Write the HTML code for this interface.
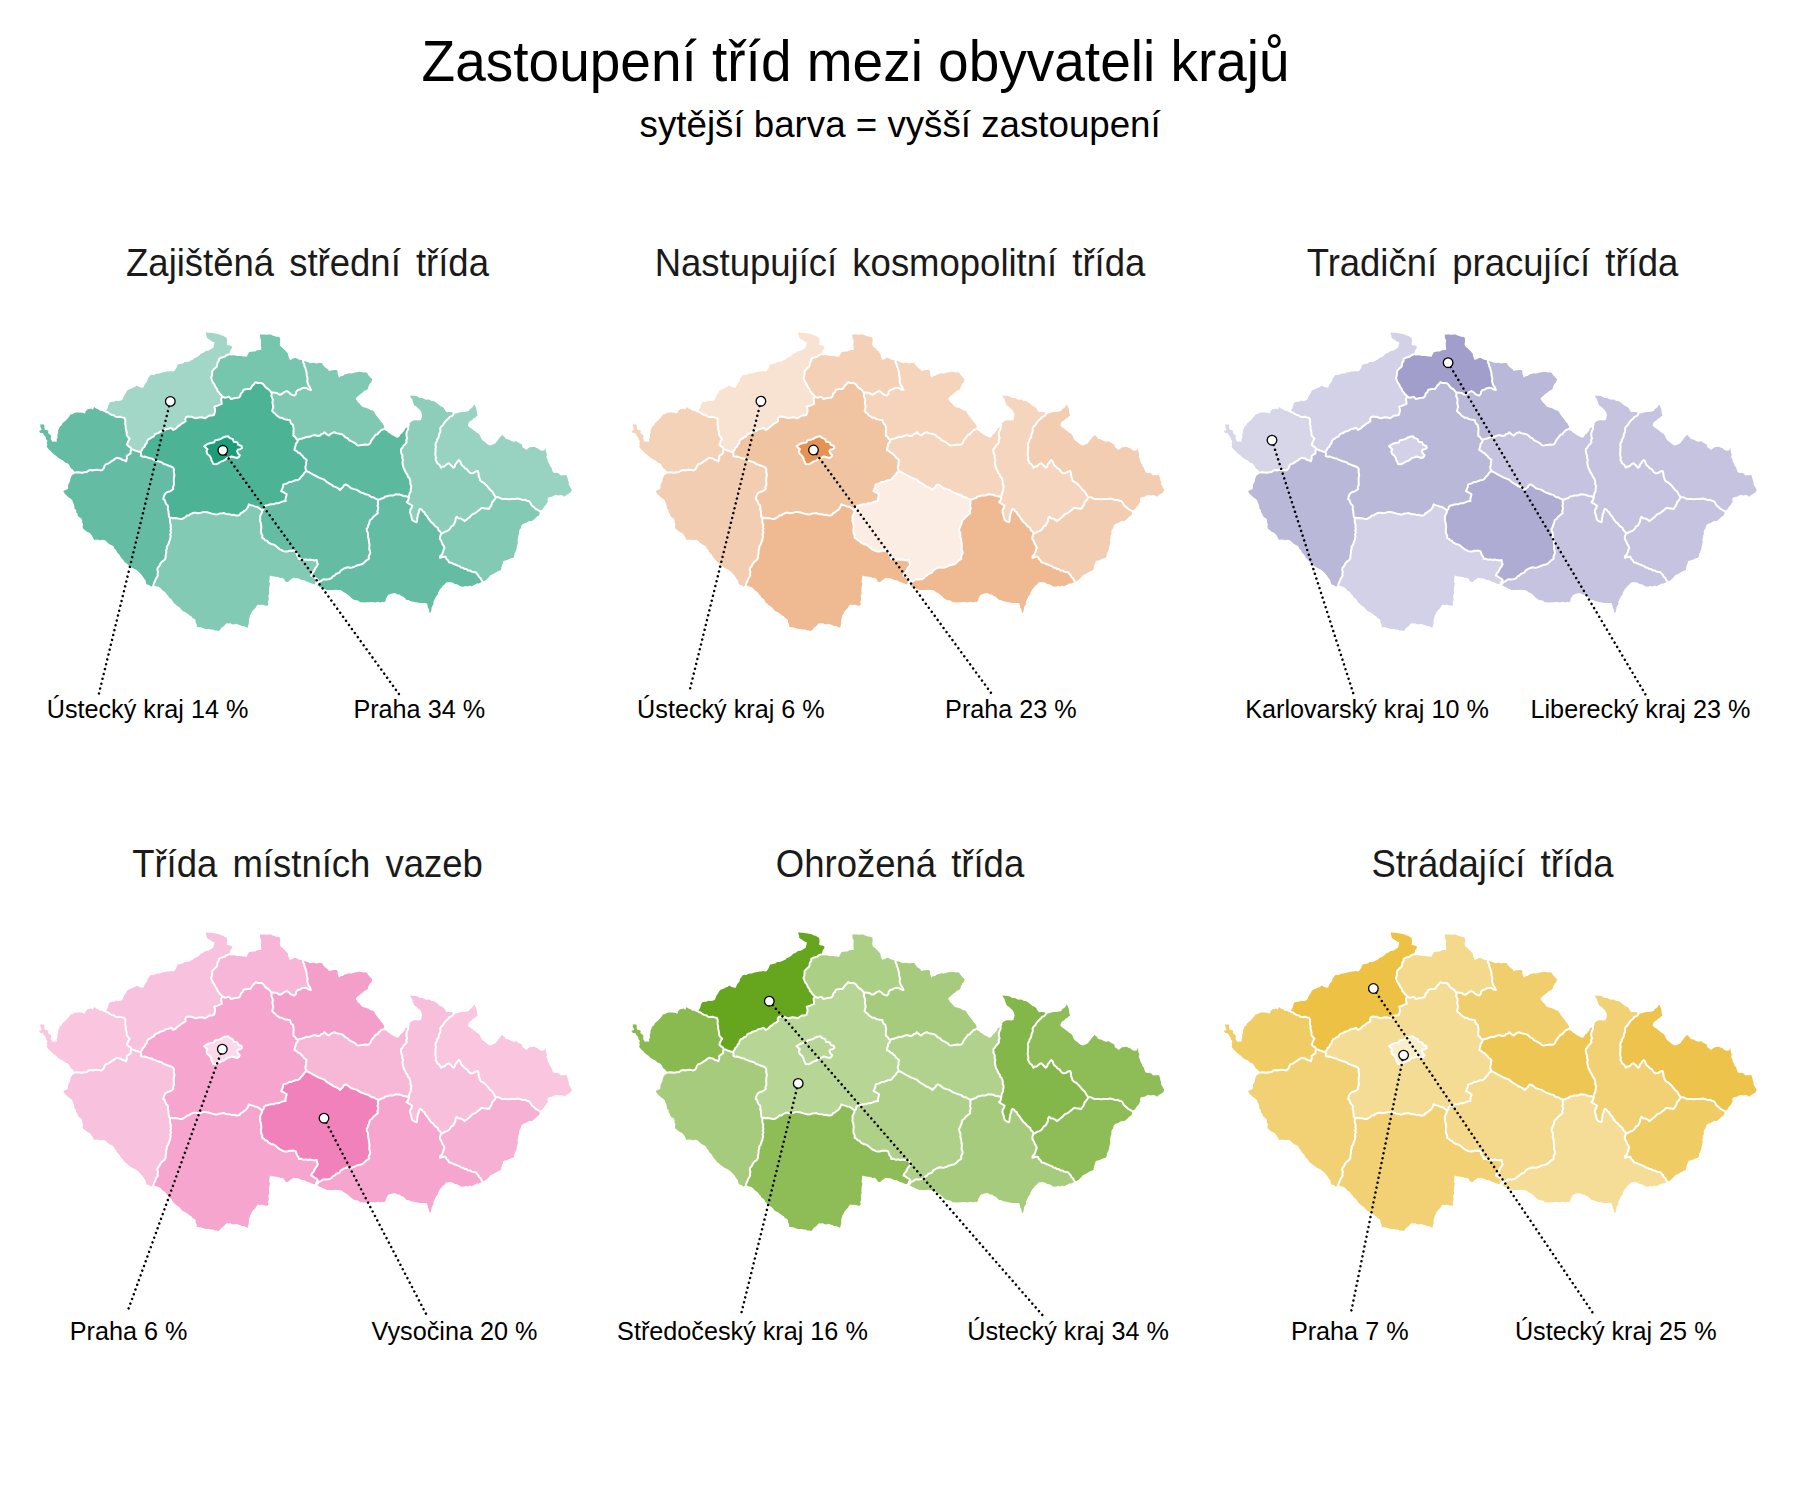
<!DOCTYPE html><html><head><meta charset="utf-8"><style>html,body{margin:0;padding:0;background:#fff;width:1800px;height:1500px;overflow:hidden}svg{display:block}text{font-family:"Liberation Sans",sans-serif}</style></head><body><svg width="1800" height="1500" viewBox="0 0 1800 1500"><defs><path id="rKV" d="M75.5 472.5L74.0 471.2L72.8 469.6L71.1 468.5L70.0 466.7L68.9 464.4L67.4 463.3L65.6 462.7L64.1 461.5L62.7 460.3L60.9 459.6L59.3 458.6L57.7 457.5L56.4 456.0L54.2 454.6L52.4 452.9L51.1 451.6L49.7 450.3L48.4 448.9L46.7 446.7L47.4 444.8L46.8 442.8L47.6 440.9L46.1 439.2L45.7 436.9L44.0 435.3L43.1 433.3L40.4 432.9L39.1 431.1L41.8 429.8L40.4 426.7L40.4 424.2L42.2 424.6L44.0 424.4L44.4 426.2L44.3 428.1L44.9 429.8L46.7 430.0L48.4 430.7L48.0 432.9L49.6 434.2L51.1 435.6L50.7 439.1L52.4 441.8L54.6 441.4L56.9 441.8L56.6 439.4L57.7 437.1L57.3 434.7L58.2 432.7L58.1 430.4L59.1 428.4L59.8 426.6L61.5 425.4L62.2 423.6L63.9 421.9L65.8 420.4L67.6 418.5L69.3 416.4L70.7 414.2L72.6 414.3L74.2 412.9L76.0 412.6L77.8 412.4L80.5 412.4L83.1 412.9L84.9 413.8L85.8 411.3L87.6 409.3L89.4 409.1L91.1 408.4L92.9 409.8L94.2 407.1L96.0 408.6L98.2 409.2L100.0 410.7L102.1 410.8L104.0 412.1L106.1 412.0L108.2 412.5L109.9 413.9L111.7 415.0L113.9 415.3L115.6 416.7L117.8 417.1L120.1 416.7L122.2 417.4L124.4 417.8L125.3 420.0L125.3 422.1L125.2 424.2L125.8 426.2L125.7 428.3L126.2 430.5L126.7 432.7L126.7 435.0L128.0 437.0L129.7 438.7L128.6 440.6L127.6 442.6L127.0 444.7L128.7 446.4L130.7 447.7L131.3 449.3L130.6 451.2L130.7 453.3L128.6 454.6L126.7 456.0L126.9 458.7L126.0 461.3L124.4 460.3L122.4 460.0L121.0 458.7L118.9 458.2L116.7 457.8L114.9 458.8L113.5 460.2L111.7 461.2L110.0 462.3L107.9 463.6L105.6 464.4L104.4 466.2L103.7 468.4L102.2 470.0L100.3 470.4L98.5 469.9L96.7 469.7L94.8 469.9L92.9 470.5L91.1 470.0L88.8 470.5L86.8 471.9L84.4 472.2L82.2 472.8L80.0 472.5L77.7 472.2Z"/><path id="rUL" d="M106.1 412.0L106.4 409.9L107.7 408.1L108.2 406.0L108.8 404.0L110.0 402.2L112.0 401.7L114.1 401.7L116.0 400.8L118.2 401.0L120.2 400.8L122.2 400.0L123.1 398.3L123.7 396.4L124.6 394.8L125.8 393.3L126.6 391.5L127.8 390.0L129.6 389.2L131.5 388.5L133.2 387.6L135.1 386.9L136.7 385.6L138.8 386.7L141.0 387.4L143.3 387.8L144.0 385.9L144.8 384.1L146.3 382.6L147.3 380.9L147.6 378.8L149.0 377.3L150.0 375.6L151.8 374.8L153.9 374.9L155.6 373.9L157.5 373.5L159.6 373.4L161.4 372.7L163.3 372.2L165.2 372.1L167.0 371.5L168.8 371.6L170.7 371.0L172.6 371.4L174.4 371.1L175.3 369.4L176.4 367.9L177.0 366.1L177.8 364.4L179.6 364.2L181.4 363.7L183.1 363.4L184.6 362.0L186.5 362.1L188.3 361.8L190.0 361.1L191.6 360.2L193.2 359.5L194.4 357.9L196.3 357.5L197.8 356.5L199.3 355.5L200.5 354.1L202.2 353.3L204.0 352.3L205.7 351.1L207.8 350.7L209.8 350.1L211.4 348.7L213.3 347.8L213.7 345.9L214.3 344.1L214.4 342.2L212.2 341.5L210.4 340.3L208.5 339.1L206.7 337.8L206.8 335.9L205.9 334.1L206.2 332.2L208.5 332.8L211.0 332.8L213.3 333.3L215.6 333.5L217.8 333.9L220.0 334.4L221.5 335.6L223.5 335.8L225.0 336.9L226.7 337.8L227.1 340.0L227.1 342.2L226.7 344.4L228.5 345.4L230.5 345.5L232.2 346.7L231.7 348.6L230.3 350.2L230.0 352.2L228.5 354.5L226.5 355.3L224.8 356.6L222.8 357.2L220.7 357.8L218.9 358.9L218.8 361.0L217.5 362.7L217.2 364.7L216.7 366.7L215.1 368.1L213.6 369.5L212.2 371.1L212.1 373.4L212.0 375.7L211.1 377.8L211.7 379.5L212.3 381.3L213.2 382.9L214.4 384.4L215.1 386.1L215.9 387.7L217.1 389.1L217.5 390.9L218.9 392.2L219.8 393.9L221.3 395.1L222.5 396.5L221.1 398.9L221.5 401.4L221.7 403.9L219.7 404.6L217.8 405.6L214.4 406.7L215.1 409.2L215.0 411.7L213.9 415.0L211.7 415.4L209.4 415.6L207.2 417.0L205.0 418.3L202.6 417.5L200.0 417.2L198.0 417.7L196.1 418.3L194.1 417.8L192.1 416.8L190.0 416.7L188.0 416.5L186.1 417.2L185.3 419.1L185.6 421.1L183.5 422.7L181.1 423.9L179.5 425.4L177.6 426.7L176.1 428.3L173.3 430.0L171.1 427.8L169.3 428.5L167.4 428.9L165.6 429.4L163.9 430.6L162.0 431.3L160.0 431.7L158.5 433.1L156.4 433.5L154.7 434.6L153.7 436.6L151.7 437.3L150.2 438.6L148.3 439.3L147.1 441.2L146.7 443.3L145.2 444.8L144.5 446.8L142.7 448.1L142.0 450.1L140.7 451.7L138.7 451.8L136.9 450.9L135.0 450.5L133.3 449.6L131.3 449.3L130.7 447.7L128.7 446.4L127.0 444.7L127.6 442.6L128.6 440.6L129.7 438.7L128.0 437.0L126.7 435.0L126.7 432.7L126.2 430.5L125.7 428.3L125.8 426.2L125.2 424.2L125.3 422.1L125.3 420.0L124.4 417.8L122.2 417.4L120.1 416.7L117.8 417.1L115.6 416.7L113.9 415.3L111.7 415.0L109.9 413.9L108.2 412.5Z"/><path id="rLB" d="M228.5 354.5L230.8 355.4L233.2 355.2L235.6 355.6L237.4 355.9L239.3 355.9L241.2 356.0L243.0 356.4L244.8 356.6L246.7 356.7L247.8 354.5L248.9 352.2L250.9 351.8L253.0 351.6L255.1 351.5L257.0 350.3L259.0 349.9L261.1 350.0L261.4 348.1L261.0 346.1L261.0 344.1L261.1 342.2L261.2 340.2L260.2 338.3L260.0 336.4L260.0 334.4L262.2 334.5L264.4 334.4L266.7 334.7L268.9 334.4L270.9 334.6L272.6 335.6L274.5 336.0L276.3 336.8L278.3 336.8L280.0 337.8L280.2 339.8L280.2 341.7L279.8 343.7L280.0 345.6L281.2 347.0L282.8 347.9L283.9 349.4L285.3 350.6L286.4 352.1L287.8 353.3L288.2 355.6L288.9 357.9L290.0 360.0L291.8 359.2L293.7 358.3L295.6 357.8L297.4 358.8L299.2 359.7L301.3 359.9L303.0 361.0L303.3 362.9L304.4 364.4L304.4 366.3L305.5 368.1L305.8 370.0L306.4 371.8L306.7 373.6L306.7 375.6L307.4 377.5L307.5 379.4L307.2 381.4L307.8 383.3L308.3 385.1L309.6 386.6L310.2 388.3L311.1 390.0L308.8 389.5L306.8 388.1L304.4 387.8L302.1 388.2L300.1 389.5L297.8 390.0L296.3 391.6L296.0 394.0L294.4 395.6L292.2 394.9L290.3 393.8L288.7 392.1L286.7 391.1L284.7 391.9L282.9 393.1L281.1 394.4L279.0 394.5L277.2 393.1L275.2 392.7L273.1 392.4L271.1 392.2L269.8 390.5L268.3 389.0L266.4 388.0L264.9 386.5L263.8 384.7L262.2 383.3L260.0 383.0L257.7 383.0L255.6 382.2L254.2 383.9L252.6 385.4L251.4 387.3L250.0 389.0L247.7 389.1L245.5 389.2L243.3 390.0L242.6 392.1L240.9 393.6L240.3 395.8L238.9 397.5L236.9 397.8L234.9 398.0L233.0 398.6L231.0 399.0L228.9 396.7L227.0 397.3L225.0 397.8L222.5 396.5L221.3 395.1L219.8 393.9L218.9 392.2L217.5 390.9L217.1 389.1L215.9 387.7L215.1 386.1L214.4 384.4L213.2 382.9L212.3 381.3L211.7 379.5L211.1 377.8L212.0 375.7L212.1 373.4L212.2 371.1L213.6 369.5L215.1 368.1L216.7 366.7L217.2 364.7L217.5 362.7L218.8 361.0L218.9 358.9L220.7 357.8L222.8 357.2L224.8 356.6L226.5 355.3Z"/><path id="rHK" d="M303.0 361.0L305.1 361.2L307.1 361.8L309.1 362.8L311.1 363.3L313.0 362.8L314.8 362.9L316.6 363.6L318.5 363.1L320.4 362.9L322.2 363.3L323.2 365.2L324.5 366.8L326.1 368.1L327.9 369.3L328.9 371.1L330.8 370.5L332.8 370.3L334.7 369.9L336.7 370.0L337.7 371.8L337.6 374.0L338.4 375.8L338.9 377.8L340.5 376.3L342.8 375.9L344.4 374.4L346.7 374.0L348.9 373.3L350.9 373.5L352.9 373.3L354.7 372.5L356.7 372.2L358.9 371.8L361.1 371.9L363.4 372.4L365.6 372.2L367.3 373.2L368.2 374.9L369.4 376.3L370.6 377.8L372.2 378.9L371.9 380.8L371.2 382.4L369.7 383.8L369.0 385.5L368.2 387.1L367.8 388.9L366.4 390.1L364.5 390.7L363.2 392.1L361.7 393.2L360.2 394.2L358.9 395.6L356.9 396.9L355.6 398.9L356.9 400.4L357.9 402.3L359.5 403.6L360.8 405.2L362.2 406.7L364.5 407.4L366.7 408.1L368.9 408.9L370.5 410.3L372.8 410.6L374.4 412.2L375.3 413.9L376.3 415.6L377.5 417.0L378.7 418.6L380.0 420.0L380.9 421.8L382.5 423.2L383.5 424.9L384.4 426.7L383.0 429.5L381.1 430.0L380.0 431.5L378.5 432.6L377.6 434.3L375.5 434.8L374.5 436.4L373.3 437.8L372.1 439.4L371.0 441.0L370.3 443.0L368.9 444.4L366.9 444.8L364.9 444.5L362.9 445.0L360.9 445.1L358.9 445.6L357.0 445.1L355.6 443.6L354.0 442.6L352.3 441.7L350.6 440.9L348.9 440.0L347.6 438.2L345.4 437.4L343.9 435.8L342.2 434.4L340.2 433.9L338.2 433.6L336.2 433.1L334.4 432.2L332.3 432.9L330.5 434.0L328.9 435.6L327.3 434.7L325.8 433.4L324.4 432.2L323.2 433.6L321.2 434.1L320.0 435.6L318.1 436.0L316.1 435.5L314.1 435.1L312.2 435.6L310.3 436.5L308.4 437.0L306.2 436.8L304.4 437.8L302.2 438.5L299.9 438.9L297.8 440.0L296.2 438.7L295.1 436.8L293.3 435.6L293.5 433.4L293.5 431.1L293.7 428.9L293.3 426.7L292.9 424.8L291.2 423.6L290.4 421.9L290.0 420.0L288.0 419.8L285.9 419.5L283.9 419.1L282.1 417.7L280.0 417.8L278.4 416.6L276.6 415.5L275.3 413.8L273.6 412.6L272.2 411.1L272.7 408.9L273.3 406.7L272.8 404.5L272.4 402.3L272.9 400.0L272.2 397.8L271.3 396.0L271.7 394.0L271.1 392.2L273.1 392.4L275.2 392.7L277.2 393.1L279.0 394.5L281.1 394.4L282.9 393.1L284.7 391.9L286.7 391.1L288.7 392.1L290.3 393.8L292.2 394.9L294.4 395.6L296.0 394.0L296.3 391.6L297.8 390.0L300.1 389.5L302.1 388.2L304.4 387.8L306.8 388.1L308.8 389.5L311.1 390.0L310.2 388.3L309.6 386.6L308.3 385.1L307.8 383.3L307.2 381.4L307.5 379.4L307.4 377.5L306.7 375.6L306.7 373.6L306.4 371.8L305.8 370.0L305.5 368.1L304.4 366.3L304.4 364.4L303.3 362.9Z"/><path id="rPA" d="M383.0 429.5L384.9 430.2L386.7 431.1L387.9 432.5L389.6 433.3L391.1 434.4L392.7 435.4L394.4 436.2L395.9 437.3L397.8 437.8L399.4 436.4L400.4 434.5L402.2 433.3L403.3 431.8L404.5 430.4L405.1 428.5L406.9 427.6L407.5 425.7L408.8 424.4L408.0 426.3L408.3 428.4L407.5 430.3L406.7 432.2L406.4 434.2L406.6 436.2L407.2 438.2L406.2 440.2L406.7 442.2L405.4 443.9L403.7 445.4L402.7 447.4L401.1 448.9L401.0 451.2L401.3 453.4L402.4 455.5L402.2 457.8L403.0 460.0L402.4 462.3L402.8 464.5L403.3 466.7L403.8 468.5L404.8 470.1L405.4 471.8L406.3 473.4L407.5 474.8L407.8 476.7L409.3 478.1L410.0 480.0L410.4 481.9L410.3 483.9L411.2 485.8L411.1 487.8L410.7 489.6L410.7 491.5L409.7 493.1L409.2 494.9L408.9 496.7L408.9 498.0L407.8 496.7L405.8 496.3L403.7 496.0L401.8 495.3L399.9 494.6L397.8 494.4L395.5 494.3L393.4 495.5L391.2 495.5L388.9 495.6L387.1 496.2L385.2 496.6L383.7 498.0L381.8 498.5L380.0 499.2L378.3 500.0L376.7 499.2L375.0 498.4L373.5 497.2L371.5 497.2L370.0 496.1L368.5 494.9L366.7 494.4L364.9 494.1L363.3 493.1L361.5 492.7L359.9 491.8L358.4 490.8L356.8 489.8L355.1 489.4L353.3 488.9L351.1 488.2L349.4 486.8L347.6 485.4L345.6 484.4L343.8 485.4L342.9 487.3L341.3 488.5L340.0 490.0L338.6 488.7L337.0 487.7L335.3 486.9L333.4 486.3L332.0 485.0L330.3 484.1L328.7 483.1L327.0 482.2L325.6 480.8L324.1 479.5L322.2 478.9L320.3 478.1L318.3 477.4L316.6 476.3L314.7 475.3L312.8 474.4L311.1 473.3L308.8 472.1L306.5 471.0L305.6 468.9L305.4 466.6L306.2 464.5L306.1 462.2L306.7 460.0L305.2 458.8L303.7 457.7L302.7 456.0L301.2 454.8L300.0 453.3L298.0 452.5L296.4 450.9L294.4 450.0L294.9 447.8L295.6 445.6L295.9 443.6L297.4 442.0L297.8 440.0L299.9 438.9L302.2 438.5L304.4 437.8L306.2 436.8L308.4 437.0L310.3 436.5L312.2 435.6L314.1 435.1L316.1 435.5L318.1 436.0L320.0 435.6L321.2 434.1L323.2 433.6L324.4 432.2L325.8 433.4L327.3 434.7L328.9 435.6L330.5 434.0L332.3 432.9L334.4 432.2L336.2 433.1L338.2 433.6L340.2 433.9L342.2 434.4L343.9 435.8L345.4 437.4L347.6 438.2L348.9 440.0L350.6 440.9L352.3 441.7L354.0 442.6L355.6 443.6L357.0 445.1L358.9 445.6L360.9 445.1L362.9 445.0L364.9 444.5L366.9 444.8L368.9 444.4L370.3 443.0L371.0 441.0L372.1 439.4L373.3 437.8L374.5 436.4L375.5 434.8L377.6 434.3L378.5 432.6L380.0 431.5L381.1 430.0Z"/><path id="rST" d="M140.7 451.7L142.0 450.1L142.7 448.1L144.5 446.8L145.2 444.8L146.7 443.3L147.1 441.2L148.3 439.3L150.2 438.6L151.7 437.3L153.7 436.6L154.7 434.6L156.4 433.5L158.5 433.1L160.0 431.7L162.0 431.3L163.9 430.6L165.6 429.4L167.4 428.9L169.3 428.5L171.1 427.8L173.3 430.0L176.1 428.3L177.6 426.7L179.5 425.4L181.1 423.9L183.5 422.7L185.6 421.1L185.3 419.1L186.1 417.2L188.0 416.5L190.0 416.7L192.1 416.8L194.1 417.8L196.1 418.3L198.0 417.7L200.0 417.2L202.6 417.5L205.0 418.3L207.2 417.0L209.4 415.6L211.7 415.4L213.9 415.0L215.0 411.7L215.1 409.2L214.4 406.7L217.8 405.6L219.7 404.6L221.7 403.9L221.5 401.4L221.1 398.9L222.5 396.5L225.0 397.8L227.0 397.3L228.9 396.7L231.0 399.0L233.0 398.6L234.9 398.0L236.9 397.8L238.9 397.5L240.3 395.8L240.9 393.6L242.6 392.1L243.3 390.0L245.5 389.2L247.7 389.1L250.0 389.0L251.4 387.3L252.6 385.4L254.2 383.9L255.6 382.2L257.7 383.0L260.0 383.0L262.2 383.3L263.8 384.7L264.9 386.5L266.4 388.0L268.3 389.0L269.8 390.5L271.1 392.2L271.7 394.0L271.3 396.0L272.2 397.8L272.9 400.0L272.4 402.3L272.8 404.5L273.3 406.7L272.7 408.9L272.2 411.1L273.6 412.6L275.3 413.8L276.6 415.5L278.4 416.6L280.0 417.8L282.1 417.7L283.9 419.1L285.9 419.5L288.0 419.8L290.0 420.0L290.4 421.9L291.2 423.6L292.9 424.8L293.3 426.7L293.7 428.9L293.5 431.1L293.5 433.4L293.3 435.6L295.1 436.8L296.2 438.7L297.8 440.0L297.4 442.0L295.9 443.6L295.6 445.6L294.9 447.8L294.4 450.0L296.4 450.9L298.0 452.5L300.0 453.3L301.2 454.8L302.7 456.0L303.7 457.7L305.2 458.8L306.7 460.0L306.1 462.2L306.2 464.5L305.4 466.6L305.6 468.9L306.5 471.0L304.4 472.7L303.0 475.0L301.7 476.2L300.5 477.6L299.4 479.1L297.8 480.0L295.5 480.2L293.3 481.1L291.4 481.9L289.2 482.0L287.4 483.2L285.4 483.9L283.3 484.4L283.0 486.8L282.2 489.0L281.1 491.1L283.1 492.0L284.9 493.2L286.7 494.4L286.2 496.6L285.5 498.8L285.6 501.1L283.5 501.2L281.6 501.9L279.7 502.7L277.7 503.2L275.6 503.3L273.7 504.2L271.6 504.2L269.5 504.4L267.6 505.3L265.6 505.6L264.0 506.9L263.6 509.1L262.2 510.5L260.4 509.1L258.7 507.8L256.7 506.7L254.7 506.4L252.8 505.6L250.8 505.1L248.9 504.4L248.1 506.8L246.7 508.9L245.4 510.3L243.8 511.2L242.4 512.5L240.6 513.2L239.6 514.9L237.8 515.6L235.8 515.5L233.9 514.7L231.9 515.1L230.0 514.3L228.0 514.3L226.1 514.1L224.2 513.1L222.2 513.3L220.0 513.4L217.8 514.2L215.6 514.4L213.8 514.1L212.0 513.6L210.2 513.1L208.5 512.6L206.7 512.2L204.9 512.0L203.0 512.1L201.3 512.6L199.5 513.1L197.7 513.2L195.8 512.7L194.0 512.7L192.2 513.3L190.5 514.1L189.0 515.5L186.9 515.6L185.5 517.0L183.9 518.0L182.2 518.9L180.3 519.1L178.6 518.6L176.8 518.3L175.0 517.9L173.1 518.2L171.3 517.7L169.5 517.5L168.9 516.7L168.8 514.8L168.6 513.0L168.5 511.1L167.8 509.3L168.1 507.4L167.8 505.6L166.2 504.2L165.4 502.4L164.8 500.3L163.3 498.9L163.8 496.9L164.4 495.0L165.6 493.3L167.4 492.0L169.7 491.5L171.6 490.3L173.3 488.9L173.0 487.0L173.9 485.1L174.0 483.2L173.8 481.3L173.8 479.4L173.9 477.5L174.4 475.6L174.2 473.6L173.7 471.7L174.0 469.7L173.3 467.8L171.5 466.7L169.5 466.0L167.5 465.3L165.6 464.4L163.7 464.1L162.3 462.6L160.6 462.0L158.8 461.5L157.0 461.0L155.3 460.2L153.5 459.6L151.9 458.6L150.0 458.3L148.2 457.7L146.5 457.1L144.7 456.5L142.7 456.7L141.0 456.0L141.1 453.8Z"/><path id="rPL" d="M153.5 584.5L151.1 586.7L149.1 585.1L146.7 584.4L145.9 582.6L145.6 580.5L144.4 578.9L143.2 577.2L142.1 575.5L140.7 574.0L139.4 572.4L137.8 571.1L136.2 569.7L134.3 568.8L132.4 568.0L130.7 566.7L128.9 565.6L127.4 564.3L125.9 563.0L124.4 561.7L123.3 560.0L121.8 558.4L120.4 556.8L119.5 554.7L117.8 553.3L116.7 551.8L116.0 549.9L114.4 548.7L113.8 546.8L112.2 545.6L110.5 544.7L108.8 543.7L107.4 542.5L106.0 541.0L104.4 540.0L102.4 539.8L100.4 540.2L98.4 539.7L96.4 539.5L94.4 540.0L93.2 538.2L92.3 536.2L91.1 534.4L89.8 533.0L87.9 532.3L86.3 531.2L84.9 529.9L83.3 528.9L82.5 526.7L83.1 524.4L82.1 522.3L82.2 520.0L81.1 518.2L79.1 517.2L77.8 515.6L77.5 513.7L76.1 512.2L76.2 510.1L74.6 508.7L74.4 506.7L74.0 504.4L72.9 502.2L72.2 500.0L70.4 498.5L68.4 497.2L66.7 495.6L65.2 494.3L64.1 492.8L63.3 491.1L65.6 490.1L67.8 488.9L68.1 487.0L68.1 485.1L68.9 483.3L70.1 481.3L70.3 478.9L71.1 476.7L72.2 474.9L74.2 474.1L75.5 472.5L77.7 472.2L80.0 472.5L82.2 472.8L84.4 472.2L86.8 471.9L88.8 470.5L91.1 470.0L92.9 470.5L94.8 469.9L96.7 469.7L98.5 469.9L100.3 470.4L102.2 470.0L103.7 468.4L104.4 466.2L105.6 464.4L107.9 463.6L110.0 462.3L111.7 461.2L113.5 460.2L114.9 458.8L116.7 457.8L118.9 458.2L121.0 458.7L122.4 460.0L124.4 460.3L126.0 461.3L126.9 458.7L126.7 456.0L128.6 454.6L130.7 453.3L130.6 451.2L131.3 449.3L133.3 449.6L135.0 450.5L136.9 450.9L138.7 451.8L140.7 451.7L141.1 453.8L141.0 456.0L142.7 456.7L144.7 456.5L146.5 457.1L148.2 457.7L150.0 458.3L151.9 458.6L153.5 459.6L155.3 460.2L157.0 461.0L158.8 461.5L160.6 462.0L162.3 462.6L163.7 464.1L165.6 464.4L167.5 465.3L169.5 466.0L171.5 466.7L173.3 467.8L174.0 469.7L173.7 471.7L174.2 473.6L174.4 475.6L173.9 477.5L173.8 479.4L173.8 481.3L174.0 483.2L173.9 485.1L173.0 487.0L173.3 488.9L171.6 490.3L169.7 491.5L167.4 492.0L165.6 493.3L164.4 495.0L163.8 496.9L163.3 498.9L164.8 500.3L165.4 502.4L166.2 504.2L167.8 505.6L168.1 507.4L167.8 509.3L168.5 511.1L168.6 513.0L168.8 514.8L168.9 516.7L169.5 517.5L170.1 519.3L169.9 521.3L170.2 523.2L170.9 525.1L170.6 527.0L171.1 528.9L170.4 530.7L171.1 532.6L170.2 534.4L170.7 536.3L170.2 538.2L170.0 540.0L169.1 541.7L168.7 543.5L168.0 545.2L166.7 546.7L166.9 548.6L166.1 550.4L166.3 552.3L165.9 554.1L165.6 555.9L165.6 557.8L164.6 559.8L162.8 561.1L161.2 562.6L160.0 564.4L159.2 566.3L157.8 567.8L157.3 569.8L158.0 571.7L157.6 573.6L157.8 575.6L156.9 577.2L155.8 578.8L155.3 580.6L154.4 582.2Z"/><path id="rJC" d="M315.6 584.4L313.3 583.9L311.0 583.2L308.9 582.2L307.0 581.8L305.4 580.7L303.6 580.1L301.6 580.0L300.0 578.9L297.8 578.3L295.5 578.3L293.3 577.8L291.6 578.9L290.0 580.0L288.6 581.5L286.7 582.2L285.0 581.0L284.0 579.0L282.2 577.8L280.1 577.9L278.1 577.1L276.1 576.8L274.0 576.6L272.0 576.2L270.0 575.6L269.5 577.5L269.6 579.5L269.1 581.4L270.0 583.4L269.7 585.3L269.2 587.2L269.1 589.2L268.9 591.1L269.3 593.0L268.7 594.7L268.3 596.5L268.8 598.4L268.7 600.2L267.7 601.9L268.4 603.8L267.8 605.6L265.8 605.7L263.8 605.0L261.8 604.8L259.7 605.1L257.8 604.4L256.5 605.9L255.7 607.7L254.4 609.1L252.9 610.5L251.8 612.1L251.0 613.9L250.0 615.6L249.6 617.6L248.9 619.6L248.8 621.7L248.8 623.8L248.1 625.8L247.8 627.8L245.8 627.0L243.9 626.0L241.7 626.0L239.8 625.1L237.8 624.4L236.0 623.8L234.0 624.6L232.2 624.3L230.4 623.3L228.5 623.5L226.7 623.3L225.2 624.4L224.1 625.9L222.7 627.1L221.1 628.1L220.1 629.7L218.9 631.1L216.9 630.5L214.8 630.4L212.9 629.5L210.8 629.5L208.8 628.9L206.7 628.9L204.7 628.7L202.7 628.1L200.8 627.2L198.7 627.3L196.7 626.7L196.8 624.4L195.6 622.3L195.6 620.0L194.2 618.8L192.5 617.9L191.4 616.3L189.7 615.5L188.4 614.2L186.7 613.3L185.4 612.0L183.5 611.5L182.1 610.4L180.9 609.1L179.7 607.6L178.3 606.5L176.7 605.6L175.4 604.2L173.9 603.1L172.7 601.6L171.9 599.8L170.6 598.4L168.9 597.5L168.1 595.6L166.7 594.4L165.7 592.8L164.3 591.5L162.5 590.6L161.4 589.0L160.0 587.8L158.5 586.7L156.5 586.6L154.9 585.8L153.5 584.5L154.4 582.2L155.3 580.6L155.8 578.8L156.9 577.2L157.8 575.6L157.6 573.6L158.0 571.7L157.3 569.8L157.8 567.8L159.2 566.3L160.0 564.4L161.2 562.6L162.8 561.1L164.6 559.8L165.6 557.8L165.6 555.9L165.9 554.1L166.3 552.3L166.1 550.4L166.9 548.6L166.7 546.7L168.0 545.2L168.7 543.5L169.1 541.7L170.0 540.0L170.2 538.2L170.7 536.3L170.2 534.4L171.1 532.6L170.4 530.7L171.1 528.9L170.6 527.0L170.9 525.1L170.2 523.2L169.9 521.3L170.1 519.3L169.5 517.5L171.3 517.7L173.1 518.2L175.0 517.9L176.8 518.3L178.6 518.6L180.3 519.1L182.2 518.9L183.9 518.0L185.5 517.0L186.9 515.6L189.0 515.5L190.5 514.1L192.2 513.3L194.0 512.7L195.8 512.7L197.7 513.2L199.5 513.1L201.3 512.6L203.0 512.1L204.9 512.0L206.7 512.2L208.5 512.6L210.2 513.1L212.0 513.6L213.8 514.1L215.6 514.4L217.8 514.2L220.0 513.4L222.2 513.3L224.2 513.1L226.1 514.1L228.0 514.3L230.0 514.3L231.9 515.1L233.9 514.7L235.8 515.5L237.8 515.6L239.6 514.9L240.6 513.2L242.4 512.5L243.8 511.2L245.4 510.3L246.7 508.9L248.1 506.8L248.9 504.4L250.8 505.1L252.8 505.6L254.7 506.4L256.7 506.7L258.7 507.8L260.4 509.1L262.2 510.5L261.8 512.7L260.9 514.7L260.0 516.7L260.3 518.7L260.0 520.8L260.8 522.8L261.0 524.8L261.4 526.8L261.1 528.9L261.0 531.2L261.3 533.4L262.4 535.5L262.2 537.8L263.9 538.7L265.2 540.2L267.2 540.7L268.3 542.4L270.0 543.3L271.6 544.3L273.6 544.6L275.2 545.4L276.7 546.7L278.2 548.0L279.7 549.3L281.6 550.1L283.3 551.1L285.4 551.6L287.4 551.5L289.5 550.8L291.5 550.8L293.6 550.6L295.6 551.1L296.4 553.1L297.0 555.1L298.4 556.8L298.9 558.9L301.2 558.8L303.3 559.7L305.6 559.4L307.8 560.0L310.0 559.5L312.2 560.1L314.5 560.5L316.7 560.0L317.1 562.2L317.8 564.4L316.8 566.3L315.4 568.0L314.4 570.0L313.5 572.0L311.9 573.5L311.1 575.6L312.9 576.4L314.5 577.7L316.3 578.6L317.8 580.0L316.6 582.1Z"/><path id="rVY" d="M262.2 510.5L263.6 509.1L264.0 506.9L265.6 505.6L267.6 505.3L269.5 504.4L271.6 504.2L273.7 504.2L275.6 503.3L277.7 503.2L279.7 502.7L281.6 501.9L283.5 501.2L285.6 501.1L285.5 498.8L286.2 496.6L286.7 494.4L284.9 493.2L283.1 492.0L281.1 491.1L282.2 489.0L283.0 486.8L283.3 484.4L285.4 483.9L287.4 483.2L289.2 482.0L291.4 481.9L293.3 481.1L295.5 480.2L297.8 480.0L299.4 479.1L300.5 477.6L301.7 476.2L303.0 475.0L304.4 472.7L306.5 471.0L308.8 472.1L311.1 473.3L312.8 474.4L314.7 475.3L316.6 476.3L318.3 477.4L320.3 478.1L322.2 478.9L324.1 479.5L325.6 480.8L327.0 482.2L328.7 483.1L330.3 484.1L332.0 485.0L333.4 486.3L335.3 486.9L337.0 487.7L338.6 488.7L340.0 490.0L341.3 488.5L342.9 487.3L343.8 485.4L345.6 484.4L347.6 485.4L349.4 486.8L351.1 488.2L353.3 488.9L355.1 489.4L356.8 489.8L358.4 490.8L359.9 491.8L361.5 492.7L363.3 493.1L364.9 494.1L366.7 494.4L368.5 494.9L370.0 496.1L371.5 497.2L373.5 497.2L375.0 498.4L376.7 499.2L378.3 500.0L377.8 502.2L378.2 504.0L377.5 505.9L378.3 507.8L378.0 509.6L377.4 511.4L377.8 513.3L376.1 514.5L374.6 515.8L373.0 517.2L371.8 519.0L370.0 520.0L369.5 521.8L369.1 523.7L368.1 525.4L367.8 527.3L366.7 528.9L366.9 531.0L367.9 532.9L368.1 535.0L367.9 537.1L368.7 539.0L368.9 541.1L369.2 543.1L369.5 545.1L369.3 547.1L369.2 549.2L370.0 551.1L370.3 553.1L369.3 555.0L368.7 556.9L368.9 558.9L367.2 559.8L365.7 561.1L364.3 562.4L362.9 563.8L361.0 564.5L358.7 564.9L356.5 565.8L354.4 566.7L352.3 567.4L350.1 567.8L347.7 567.3L345.6 568.0L343.8 568.6L342.2 569.7L340.6 570.7L339.6 572.6L337.8 573.3L335.9 574.0L334.7 575.5L332.8 576.3L331.7 577.9L330.0 578.9L328.1 579.3L326.1 579.6L324.1 579.2L322.2 580.0L320.7 581.3L318.7 581.9L317.5 583.7L315.6 584.4L316.6 582.1L317.8 580.0L316.3 578.6L314.5 577.7L312.9 576.4L311.1 575.6L311.9 573.5L313.5 572.0L314.4 570.0L315.4 568.0L316.8 566.3L317.8 564.4L317.1 562.2L316.7 560.0L314.5 560.5L312.2 560.1L310.0 559.5L307.8 560.0L305.6 559.4L303.3 559.7L301.2 558.8L298.9 558.9L298.4 556.8L297.0 555.1L296.4 553.1L295.6 551.1L293.6 550.6L291.5 550.8L289.5 550.8L287.4 551.5L285.4 551.6L283.3 551.1L281.6 550.1L279.7 549.3L278.2 548.0L276.7 546.7L275.2 545.4L273.6 544.6L271.6 544.3L270.0 543.3L268.3 542.4L267.2 540.7L265.2 540.2L263.9 538.7L262.2 537.8L262.4 535.5L261.3 533.4L261.0 531.2L261.1 528.9L261.4 526.8L261.0 524.8L260.8 522.8L260.0 520.8L260.3 518.7L260.0 516.7L260.9 514.7L261.8 512.7Z"/><path id="rJM" d="M482.5 581.5L480.8 582.6L479.0 583.5L476.8 583.5L475.0 584.4L473.3 585.6L471.5 586.2L469.6 585.6L467.8 586.6L465.9 586.1L464.0 586.5L462.2 586.7L460.3 586.2L458.6 585.0L456.7 584.3L454.6 584.1L453.1 582.7L451.1 582.2L448.9 582.2L446.7 582.2L445.3 583.5L444.1 584.9L442.4 585.9L441.6 587.8L440.0 588.9L439.2 590.7L438.1 592.4L437.8 594.4L436.3 596.1L435.3 598.0L434.4 600.0L433.4 601.8L433.6 604.0L432.5 605.7L431.6 607.5L431.4 609.5L431.0 611.5L430.0 613.3L429.2 611.3L429.0 609.2L427.8 607.4L427.6 605.2L426.7 603.3L424.9 603.0L423.0 603.1L421.1 603.1L419.3 603.0L417.4 602.6L415.6 602.2L413.8 601.8L412.0 601.6L410.2 601.1L408.6 600.1L406.7 600.0L405.0 598.3L403.3 596.7L401.3 596.0L399.6 594.6L397.4 594.4L395.6 593.3L393.3 593.3L391.1 593.7L388.9 594.4L387.6 595.7L386.8 597.3L385.8 598.8L385.6 600.8L384.4 602.2L382.5 601.8L380.5 602.4L378.6 601.7L376.6 602.0L374.7 602.4L372.8 602.1L370.8 601.9L368.9 602.2L366.7 602.3L364.4 602.4L362.2 602.2L360.0 602.2L358.5 600.8L356.5 600.3L354.5 599.9L352.7 599.1L351.1 597.8L348.9 595.6L347.3 594.2L345.5 593.1L343.6 592.2L342.1 590.7L340.0 590.0L337.8 590.0L335.5 589.8L333.3 590.0L331.1 590.1L328.9 589.9L326.7 590.0L325.0 588.9L323.1 588.4L321.4 587.2L319.5 586.7L317.8 585.6L315.6 584.4L317.5 583.7L318.7 581.9L320.7 581.3L322.2 580.0L324.1 579.2L326.1 579.6L328.1 579.3L330.0 578.9L331.7 577.9L332.8 576.3L334.7 575.5L335.9 574.0L337.8 573.3L339.6 572.6L340.6 570.7L342.2 569.7L343.8 568.6L345.6 568.0L347.7 567.3L350.1 567.8L352.3 567.4L354.4 566.7L356.5 565.8L358.7 564.9L361.0 564.5L362.9 563.8L364.3 562.4L365.7 561.1L367.2 559.8L368.9 558.9L368.7 556.9L369.3 555.0L370.3 553.1L370.0 551.1L369.2 549.2L369.3 547.1L369.5 545.1L369.2 543.1L368.9 541.1L368.7 539.0L367.9 537.1L368.1 535.0L367.9 532.9L366.9 531.0L366.7 528.9L367.8 527.3L368.1 525.4L369.1 523.7L369.5 521.8L370.0 520.0L371.8 519.0L373.0 517.2L374.6 515.8L376.1 514.5L377.8 513.3L377.4 511.4L378.0 509.6L378.3 507.8L377.5 505.9L378.2 504.0L377.8 502.2L378.3 500.0L380.0 499.2L381.8 498.5L383.7 498.0L385.2 496.6L387.1 496.2L388.9 495.6L391.2 495.5L393.4 495.5L395.5 494.3L397.8 494.4L399.9 494.6L401.8 495.3L403.7 496.0L405.8 496.3L407.8 496.7L408.9 498.0L408.1 500.3L406.7 502.2L408.5 503.3L410.4 504.5L412.2 505.6L411.6 507.8L410.3 509.9L410.0 512.2L410.7 514.1L411.3 516.0L411.7 518.0L412.2 520.0L414.3 521.4L416.7 522.2L417.2 520.3L417.2 518.3L417.7 516.4L417.8 514.4L418.8 512.7L419.0 510.6L420.0 508.9L421.7 509.6L422.8 511.3L424.4 512.2L425.1 514.1L426.5 515.6L427.7 517.2L428.7 519.0L430.0 520.5L431.1 522.2L432.9 523.4L434.3 525.2L435.9 526.7L437.8 527.8L438.4 530.1L440.4 531.7L441.1 534.0L440.1 536.3L440.0 538.9L441.0 540.6L441.9 542.4L442.6 544.3L443.7 545.9L444.4 547.8L443.7 549.5L443.2 551.3L442.6 553.0L442.0 554.7L440.3 555.9L440.0 557.8L441.8 557.2L443.7 556.8L445.6 556.7L446.3 558.8L448.0 560.2L448.9 562.2L450.8 562.7L452.6 563.3L454.2 564.3L456.1 564.8L457.8 565.6L459.6 566.2L461.0 567.4L462.9 567.8L464.4 568.9L466.4 569.0L468.0 570.4L470.0 570.4L471.7 571.6L473.6 572.1L475.6 572.2L476.8 573.7L478.2 575.1L478.9 577.0L480.6 578.1L481.3 580.0Z"/><path id="rOL" d="M408.8 424.4L410.3 422.5L412.2 421.1L414.4 420.3L416.6 420.2L418.9 420.6L421.1 420.0L421.5 417.8L422.2 415.6L421.7 413.6L421.1 411.7L420.0 410.0L418.2 408.4L416.6 406.7L414.4 405.6L413.5 403.4L412.7 401.2L412.2 398.9L410.8 397.5L410.0 395.6L412.0 395.8L413.9 395.8L415.9 396.1L417.8 396.7L419.8 397.9L422.3 397.9L424.4 398.9L426.1 399.8L428.1 399.4L429.8 399.8L431.4 401.1L433.3 401.1L435.3 401.9L436.9 403.2L438.5 404.6L440.1 406.0L442.2 406.7L444.0 408.3L445.1 410.4L446.7 412.2L448.5 412.1L450.4 412.1L452.2 412.2L453.3 414.5L451.8 416.1L449.7 416.9L448.4 418.6L446.7 420.0L445.2 421.6L443.9 423.4L442.9 425.3L441.1 426.7L440.2 428.4L440.4 430.3L440.2 432.1L439.3 433.8L438.9 435.6L438.5 437.7L437.1 439.4L436.8 441.5L435.6 443.3L435.5 445.2L435.9 447.2L435.4 449.2L435.6 451.1L435.3 453.3L435.5 455.6L436.0 457.8L435.6 460.0L436.7 461.6L437.4 463.4L439.2 464.5L440.2 466.1L441.1 467.8L442.4 466.5L444.5 466.4L445.8 465.1L447.2 463.9L448.9 463.3L450.5 464.7L451.9 466.2L453.3 467.8L454.8 466.5L455.2 464.4L456.6 463.0L457.6 461.4L458.9 460.0L460.4 461.7L461.0 463.8L462.2 465.6L463.8 466.7L465.0 468.3L466.9 469.1L468.1 470.8L469.3 472.3L471.1 473.3L473.5 472.9L475.5 471.6L477.8 471.1L478.5 472.8L478.6 474.7L478.8 476.5L479.6 478.2L480.0 480.0L481.5 481.7L483.5 482.6L485.1 484.1L486.7 485.6L488.1 487.1L489.2 488.8L490.7 490.2L492.2 491.5L493.3 493.3L494.5 495.4L496.0 497.3L494.9 499.1L493.7 500.7L492.2 502.2L491.8 504.1L491.0 505.8L489.9 507.3L488.9 508.9L486.7 508.5L484.4 508.4L482.2 507.8L480.6 508.7L479.3 510.0L477.8 511.1L476.3 512.4L474.5 513.5L472.5 514.1L471.1 515.6L469.6 517.2L467.9 518.5L466.2 519.9L464.4 521.1L462.7 519.6L460.8 518.5L458.4 518.2L456.7 516.7L455.6 518.8L455.4 521.2L454.4 523.3L453.4 525.3L451.3 526.4L450.2 528.3L448.9 530.0L447.0 531.1L444.9 531.8L443.0 532.9L441.1 534.0L440.4 531.7L438.4 530.1L437.8 527.8L435.9 526.7L434.3 525.2L432.9 523.4L431.1 522.2L430.0 520.5L428.7 519.0L427.7 517.2L426.5 515.6L425.1 514.1L424.4 512.2L422.8 511.3L421.7 509.6L420.0 508.9L419.0 510.6L418.8 512.7L417.8 514.4L417.7 516.4L417.2 518.3L417.2 520.3L416.7 522.2L414.3 521.4L412.2 520.0L411.7 518.0L411.3 516.0L410.7 514.1L410.0 512.2L410.3 509.9L411.6 507.8L412.2 505.6L410.4 504.5L408.5 503.3L406.7 502.2L408.1 500.3L408.9 498.0L408.9 496.7L409.2 494.9L409.7 493.1L410.7 491.5L410.7 489.6L411.1 487.8L411.2 485.8L410.3 483.9L410.4 481.9L410.0 480.0L409.3 478.1L407.8 476.7L407.5 474.8L406.3 473.4L405.4 471.8L404.8 470.1L403.8 468.5L403.3 466.7L402.8 464.5L402.4 462.3L403.0 460.0L402.2 457.8L402.4 455.5L401.3 453.4L401.0 451.2L401.1 448.9L402.7 447.4L403.7 445.4L405.4 443.9L406.7 442.2L406.2 440.2L407.2 438.2L406.6 436.2L406.4 434.2L406.7 432.2L407.5 430.3L408.3 428.4L408.0 426.3Z"/><path id="rMS" d="M453.3 414.5L455.5 413.6L457.7 412.9L460.0 412.2L462.2 412.1L464.5 411.9L466.7 411.5L468.9 411.1L469.9 409.1L471.9 408.0L473.2 406.2L474.4 404.4L475.4 406.5L476.4 408.7L476.7 411.1L477.0 413.4L477.8 415.6L476.1 416.4L475.0 418.1L473.2 418.6L472.0 420.2L470.3 420.9L468.9 422.2L467.8 425.6L469.4 427.3L471.6 428.4L473.3 430.0L475.1 431.2L476.8 432.7L478.6 433.8L480.0 435.6L480.8 437.6L481.8 439.5L483.3 441.1L485.0 442.1L486.6 443.4L488.2 444.7L490.0 445.6L491.9 445.0L493.8 444.1L495.6 443.3L496.5 441.7L497.7 440.3L498.9 438.8L499.9 437.3L501.4 436.1L502.2 434.4L503.2 436.0L504.8 437.1L505.6 438.9L507.5 439.2L509.3 439.7L510.9 440.8L512.7 441.4L514.6 441.7L516.3 441.1L518.0 442.6L519.9 443.6L521.9 444.4L522.5 447.2L524.4 448.6L526.4 450.0L528.0 448.5L529.7 447.2L532.0 447.1L534.2 446.7L536.1 447.7L538.1 448.5L539.7 450.0L541.9 450.8L544.2 450.6L545.8 447.8L545.7 450.1L546.1 452.3L546.9 454.4L546.3 457.2L547.4 458.8L547.7 460.8L548.5 462.5L549.5 464.2L550.0 466.0L551.4 467.5L551.9 469.4L553.0 472.2L554.8 472.9L556.7 472.7L558.5 473.3L560.8 475.6L562.6 475.2L564.5 475.3L566.3 475.0L567.2 476.7L567.6 478.6L568.1 480.5L568.8 482.3L568.7 484.3L569.6 486.1L570.9 488.0L571.9 490.0L570.8 492.2L568.6 493.7L566.3 495.0L564.6 496.7L562.8 495.6L560.8 495.0L558.6 495.5L556.3 494.9L554.1 495.6L552.2 496.7L550.0 497.0L548.0 497.8L547.4 500.0L548.0 501.7L546.8 503.2L545.9 504.9L544.5 506.2L543.5 507.9L542.4 509.4L539.5 511.0L537.6 509.8L535.6 508.9L534.3 507.3L532.5 506.1L531.2 504.6L530.3 502.6L528.9 501.1L527.1 500.9L525.4 499.8L523.5 500.1L521.7 499.7L520.0 498.9L517.8 498.5L515.5 499.0L513.3 498.9L511.1 498.9L508.9 499.2L506.6 499.0L504.4 498.9L502.2 499.0L500.2 498.1L498.2 497.2L496.0 497.3L494.5 495.4L493.3 493.3L492.2 491.5L490.7 490.2L489.2 488.8L488.1 487.1L486.7 485.6L485.1 484.1L483.5 482.6L481.5 481.7L480.0 480.0L479.6 478.2L478.8 476.5L478.6 474.7L478.5 472.8L477.8 471.1L475.5 471.6L473.5 472.9L471.1 473.3L469.3 472.3L468.1 470.8L466.9 469.1L465.0 468.3L463.8 466.7L462.2 465.6L461.0 463.8L460.4 461.7L458.9 460.0L457.6 461.4L456.6 463.0L455.2 464.4L454.8 466.5L453.3 467.8L451.9 466.2L450.5 464.7L448.9 463.3L447.2 463.9L445.8 465.1L444.5 466.4L442.4 466.5L441.1 467.8L440.2 466.1L439.2 464.5L437.4 463.4L436.7 461.6L435.6 460.0L436.0 457.8L435.5 455.6L435.3 453.3L435.6 451.1L435.4 449.2L435.9 447.2L435.5 445.2L435.6 443.3L436.8 441.5L437.1 439.4L438.5 437.7L438.9 435.6L439.3 433.8L440.2 432.1L440.4 430.3L440.2 428.4L441.1 426.7L442.9 425.3L443.9 423.4L445.2 421.6L446.7 420.0L448.4 418.6L449.7 416.9L451.8 416.1Z"/><path id="rZL" d="M539.5 511.0L539.7 513.4L538.9 515.6L536.7 516.7L535.1 518.5L533.3 520.0L531.6 521.2L529.4 521.0L527.6 521.7L525.9 522.9L524.0 523.6L522.2 524.4L521.1 526.2L520.7 528.4L519.4 530.1L518.9 532.2L519.1 534.2L518.1 536.1L518.0 538.0L517.5 540.0L517.9 542.0L517.6 543.9L517.0 545.9L516.7 547.8L516.2 549.9L515.5 551.8L514.4 553.7L514.3 555.9L513.3 557.8L511.2 558.2L509.3 559.0L507.4 560.1L505.3 560.5L503.3 561.1L502.9 562.9L502.2 564.6L501.6 566.4L501.3 568.2L501.1 570.0L499.2 570.7L497.4 571.4L495.7 572.5L494.0 573.5L492.2 574.4L490.3 575.3L489.1 577.1L487.5 578.4L486.0 579.9L484.4 581.1L482.5 581.5L481.3 580.0L480.6 578.1L478.9 577.0L478.2 575.1L476.8 573.7L475.6 572.2L473.6 572.1L471.7 571.6L470.0 570.4L468.0 570.4L466.4 569.0L464.4 568.9L462.9 567.8L461.0 567.4L459.6 566.2L457.8 565.6L456.1 564.8L454.2 564.3L452.6 563.3L450.8 562.7L448.9 562.2L448.0 560.2L446.3 558.8L445.6 556.7L443.7 556.8L441.8 557.2L440.0 557.8L440.3 555.9L442.0 554.7L442.6 553.0L443.2 551.3L443.7 549.5L444.4 547.8L443.7 545.9L442.6 544.3L441.9 542.4L441.0 540.6L440.0 538.9L440.1 536.3L441.1 534.0L443.0 532.9L444.9 531.8L447.0 531.1L448.9 530.0L450.2 528.3L451.3 526.4L453.4 525.3L454.4 523.3L455.4 521.2L455.6 518.8L456.7 516.7L458.4 518.2L460.8 518.5L462.7 519.6L464.4 521.1L466.2 519.9L467.9 518.5L469.6 517.2L471.1 515.6L472.5 514.1L474.5 513.5L476.3 512.4L477.8 511.1L479.3 510.0L480.6 508.7L482.2 507.8L484.4 508.4L486.7 508.5L488.9 508.9L489.9 507.3L491.0 505.8L491.8 504.1L492.2 502.2L493.7 500.7L494.9 499.1L496.0 497.3L498.2 497.2L500.2 498.1L502.2 499.0L504.4 498.9L506.6 499.0L508.9 499.2L511.1 498.9L513.3 498.9L515.5 499.0L517.8 498.5L520.0 498.9L521.7 499.7L523.5 500.1L525.4 499.8L527.1 500.9L528.9 501.1L530.3 502.6L531.2 504.6L532.5 506.1L534.3 507.3L535.6 508.9L537.6 509.8Z"/><path id="rPHA" d="M204.2 446.2L205.9 445.1L207.5 444.0L210.5 443.0L214.0 442.5L215.0 440.5L217.0 439.9L219.0 439.5L220.9 438.9L222.5 437.8L225.0 436.8L228.0 436.2L229.5 437.8L232.8 439.2L233.8 441.8L235.6 442.1L237.5 442.5L238.2 444.8L241.5 446.0L242.0 448.0L240.2 449.3L238.0 449.5L237.0 451.2L238.0 453.5L239.8 455.2L238.8 457.0L236.8 458.0L233.5 457.0L231.5 456.5L229.6 457.4L227.5 457.8L225.0 459.8L223.3 460.9L221.2 461.5L218.5 463.2L216.0 464.2L213.2 464.0L212.5 462.0L211.4 460.4L211.2 458.5L209.8 456.0L207.2 453.8L206.5 451.0L207.5 449.2L205.0 447.0Z"/><path id="borders" d="M106.1 412.0L108.2 412.5L109.9 413.9L111.7 415.0L113.9 415.3L115.6 416.7L117.8 417.1L120.1 416.7L122.2 417.4L124.4 417.8L125.3 420.0L125.3 422.1L125.2 424.2L125.8 426.2L125.7 428.3L126.2 430.5L126.7 432.7L126.7 435.0L128.0 437.0L129.7 438.7L128.6 440.6L127.6 442.6L127.0 444.7L128.7 446.4L130.7 447.7L131.3 449.3M131.3 449.3L130.6 451.2L130.7 453.3L128.6 454.6L126.7 456.0L126.9 458.7L126.0 461.3L124.4 460.3L122.4 460.0L121.0 458.7L118.9 458.2L116.7 457.8L114.9 458.8L113.5 460.2L111.7 461.2L110.0 462.3L107.9 463.6L105.6 464.4L104.4 466.2L103.7 468.4L102.2 470.0L100.3 470.4L98.5 469.9L96.7 469.7L94.8 469.9L92.9 470.5L91.1 470.0L88.8 470.5L86.8 471.9L84.4 472.2L82.2 472.8L80.0 472.5L77.7 472.2L75.5 472.5M131.3 449.3L133.3 449.6L135.0 450.5L136.9 450.9L138.7 451.8L140.7 451.7M140.7 451.7L142.0 450.1L142.7 448.1L144.5 446.8L145.2 444.8L146.7 443.3L147.1 441.2L148.3 439.3L150.2 438.6L151.7 437.3L153.7 436.6L154.7 434.6L156.4 433.5L158.5 433.1L160.0 431.7L162.0 431.3L163.9 430.6L165.6 429.4L167.4 428.9L169.3 428.5L171.1 427.8L173.3 430.0L176.1 428.3L177.6 426.7L179.5 425.4L181.1 423.9L183.5 422.7L185.6 421.1L185.3 419.1L186.1 417.2L188.0 416.5L190.0 416.7L192.1 416.8L194.1 417.8L196.1 418.3L198.0 417.7L200.0 417.2L202.6 417.5L205.0 418.3L207.2 417.0L209.4 415.6L211.7 415.4L213.9 415.0L215.0 411.7L215.1 409.2L214.4 406.7L217.8 405.6L219.7 404.6L221.7 403.9L221.5 401.4L221.1 398.9L222.5 396.5M222.5 396.5L221.3 395.1L219.8 393.9L218.9 392.2L217.5 390.9L217.1 389.1L215.9 387.7L215.1 386.1L214.4 384.4L213.2 382.9L212.3 381.3L211.7 379.5L211.1 377.8L212.0 375.7L212.1 373.4L212.2 371.1L213.6 369.5L215.1 368.1L216.7 366.7L217.2 364.7L217.5 362.7L218.8 361.0L218.9 358.9L220.7 357.8L222.8 357.2L224.8 356.6L226.5 355.3L228.5 354.5M222.5 396.5L225.0 397.8L227.0 397.3L228.9 396.7L231.0 399.0L233.0 398.6L234.9 398.0L236.9 397.8L238.9 397.5L240.3 395.8L240.9 393.6L242.6 392.1L243.3 390.0L245.5 389.2L247.7 389.1L250.0 389.0L251.4 387.3L252.6 385.4L254.2 383.9L255.6 382.2L257.7 383.0L260.0 383.0L262.2 383.3L263.8 384.7L264.9 386.5L266.4 388.0L268.3 389.0L269.8 390.5L271.1 392.2M271.1 392.2L273.1 392.4L275.2 392.7L277.2 393.1L279.0 394.5L281.1 394.4L282.9 393.1L284.7 391.9L286.7 391.1L288.7 392.1L290.3 393.8L292.2 394.9L294.4 395.6L296.0 394.0L296.3 391.6L297.8 390.0L300.1 389.5L302.1 388.2L304.4 387.8L306.8 388.1L308.8 389.5L311.1 390.0L310.2 388.3L309.6 386.6L308.3 385.1L307.8 383.3L307.2 381.4L307.5 379.4L307.4 377.5L306.7 375.6L306.7 373.6L306.4 371.8L305.8 370.0L305.5 368.1L304.4 366.3L304.4 364.4L303.3 362.9L303.0 361.0M271.1 392.2L271.7 394.0L271.3 396.0L272.2 397.8L272.9 400.0L272.4 402.3L272.8 404.5L273.3 406.7L272.7 408.9L272.2 411.1L273.6 412.6L275.3 413.8L276.6 415.5L278.4 416.6L280.0 417.8L282.1 417.7L283.9 419.1L285.9 419.5L288.0 419.8L290.0 420.0L290.4 421.9L291.2 423.6L292.9 424.8L293.3 426.7L293.7 428.9L293.5 431.1L293.5 433.4L293.3 435.6L295.1 436.8L296.2 438.7L297.8 440.0M297.8 440.0L299.9 438.9L302.2 438.5L304.4 437.8L306.2 436.8L308.4 437.0L310.3 436.5L312.2 435.6L314.1 435.1L316.1 435.5L318.1 436.0L320.0 435.6L321.2 434.1L323.2 433.6L324.4 432.2L325.8 433.4L327.3 434.7L328.9 435.6L330.5 434.0L332.3 432.9L334.4 432.2L336.2 433.1L338.2 433.6L340.2 433.9L342.2 434.4L343.9 435.8L345.4 437.4L347.6 438.2L348.9 440.0L350.6 440.9L352.3 441.7L354.0 442.6L355.6 443.6L357.0 445.1L358.9 445.6L360.9 445.1L362.9 445.0L364.9 444.5L366.9 444.8L368.9 444.4L370.3 443.0L371.0 441.0L372.1 439.4L373.3 437.8L374.5 436.4L375.5 434.8L377.6 434.3L378.5 432.6L380.0 431.5L381.1 430.0L383.0 429.5M297.8 440.0L297.4 442.0L295.9 443.6L295.6 445.6L294.9 447.8L294.4 450.0L296.4 450.9L298.0 452.5L300.0 453.3L301.2 454.8L302.7 456.0L303.7 457.7L305.2 458.8L306.7 460.0L306.1 462.2L306.2 464.5L305.4 466.6L305.6 468.9L306.5 471.0M306.5 471.0L304.4 472.7L303.0 475.0L301.7 476.2L300.5 477.6L299.4 479.1L297.8 480.0L295.5 480.2L293.3 481.1L291.4 481.9L289.2 482.0L287.4 483.2L285.4 483.9L283.3 484.4L283.0 486.8L282.2 489.0L281.1 491.1L283.1 492.0L284.9 493.2L286.7 494.4L286.2 496.6L285.5 498.8L285.6 501.1L283.5 501.2L281.6 501.9L279.7 502.7L277.7 503.2L275.6 503.3L273.7 504.2L271.6 504.2L269.5 504.4L267.6 505.3L265.6 505.6L264.0 506.9L263.6 509.1L262.2 510.5M262.2 510.5L260.4 509.1L258.7 507.8L256.7 506.7L254.7 506.4L252.8 505.6L250.8 505.1L248.9 504.4L248.1 506.8L246.7 508.9L245.4 510.3L243.8 511.2L242.4 512.5L240.6 513.2L239.6 514.9L237.8 515.6L235.8 515.5L233.9 514.7L231.9 515.1L230.0 514.3L228.0 514.3L226.1 514.1L224.2 513.1L222.2 513.3L220.0 513.4L217.8 514.2L215.6 514.4L213.8 514.1L212.0 513.6L210.2 513.1L208.5 512.6L206.7 512.2L204.9 512.0L203.0 512.1L201.3 512.6L199.5 513.1L197.7 513.2L195.8 512.7L194.0 512.7L192.2 513.3L190.5 514.1L189.0 515.5L186.9 515.6L185.5 517.0L183.9 518.0L182.2 518.9L180.3 519.1L178.6 518.6L176.8 518.3L175.0 517.9L173.1 518.2L171.3 517.7L169.5 517.5M140.7 451.7L141.1 453.8L141.0 456.0L142.7 456.7L144.7 456.5L146.5 457.1L148.2 457.7L150.0 458.3L151.9 458.6L153.5 459.6L155.3 460.2L157.0 461.0L158.8 461.5L160.6 462.0L162.3 462.6L163.7 464.1L165.6 464.4L167.5 465.3L169.5 466.0L171.5 466.7L173.3 467.8L174.0 469.7L173.7 471.7L174.2 473.6L174.4 475.6L173.9 477.5L173.8 479.4L173.8 481.3L174.0 483.2L173.9 485.1L173.0 487.0L173.3 488.9L171.6 490.3L169.7 491.5L167.4 492.0L165.6 493.3L164.4 495.0L163.8 496.9L163.3 498.9L164.8 500.3L165.4 502.4L166.2 504.2L167.8 505.6L168.1 507.4L167.8 509.3L168.5 511.1L168.6 513.0L168.8 514.8L168.9 516.7L169.5 517.5M169.5 517.5L170.1 519.3L169.9 521.3L170.2 523.2L170.9 525.1L170.6 527.0L171.1 528.9L170.4 530.7L171.1 532.6L170.2 534.4L170.7 536.3L170.2 538.2L170.0 540.0L169.1 541.7L168.7 543.5L168.0 545.2L166.7 546.7L166.9 548.6L166.1 550.4L166.3 552.3L165.9 554.1L165.6 555.9L165.6 557.8L164.6 559.8L162.8 561.1L161.2 562.6L160.0 564.4L159.2 566.3L157.8 567.8L157.3 569.8L158.0 571.7L157.6 573.6L157.8 575.6L156.9 577.2L155.8 578.8L155.3 580.6L154.4 582.2L153.5 584.5M306.5 471.0L308.8 472.1L311.1 473.3L312.8 474.4L314.7 475.3L316.6 476.3L318.3 477.4L320.3 478.1L322.2 478.9L324.1 479.5L325.6 480.8L327.0 482.2L328.7 483.1L330.3 484.1L332.0 485.0L333.4 486.3L335.3 486.9L337.0 487.7L338.6 488.7L340.0 490.0L341.3 488.5L342.9 487.3L343.8 485.4L345.6 484.4L347.6 485.4L349.4 486.8L351.1 488.2L353.3 488.9L355.1 489.4L356.8 489.8L358.4 490.8L359.9 491.8L361.5 492.7L363.3 493.1L364.9 494.1L366.7 494.4L368.5 494.9L370.0 496.1L371.5 497.2L373.5 497.2L375.0 498.4L376.7 499.2L378.3 500.0M378.3 500.0L380.0 499.2L381.8 498.5L383.7 498.0L385.2 496.6L387.1 496.2L388.9 495.6L391.2 495.5L393.4 495.5L395.5 494.3L397.8 494.4L399.9 494.6L401.8 495.3L403.7 496.0L405.8 496.3L407.8 496.7L408.9 498.0M408.8 424.4L408.0 426.3L408.3 428.4L407.5 430.3L406.7 432.2L406.4 434.2L406.6 436.2L407.2 438.2L406.2 440.2L406.7 442.2L405.4 443.9L403.7 445.4L402.7 447.4L401.1 448.9L401.0 451.2L401.3 453.4L402.4 455.5L402.2 457.8L403.0 460.0L402.4 462.3L402.8 464.5L403.3 466.7L403.8 468.5L404.8 470.1L405.4 471.8L406.3 473.4L407.5 474.8L407.8 476.7L409.3 478.1L410.0 480.0L410.4 481.9L410.3 483.9L411.2 485.8L411.1 487.8L410.7 489.6L410.7 491.5L409.7 493.1L409.2 494.9L408.9 496.7L408.9 498.0M453.3 414.5L451.8 416.1L449.7 416.9L448.4 418.6L446.7 420.0L445.2 421.6L443.9 423.4L442.9 425.3L441.1 426.7L440.2 428.4L440.4 430.3L440.2 432.1L439.3 433.8L438.9 435.6L438.5 437.7L437.1 439.4L436.8 441.5L435.6 443.3L435.5 445.2L435.9 447.2L435.4 449.2L435.6 451.1L435.3 453.3L435.5 455.6L436.0 457.8L435.6 460.0L436.7 461.6L437.4 463.4L439.2 464.5L440.2 466.1L441.1 467.8L442.4 466.5L444.5 466.4L445.8 465.1L447.2 463.9L448.9 463.3L450.5 464.7L451.9 466.2L453.3 467.8L454.8 466.5L455.2 464.4L456.6 463.0L457.6 461.4L458.9 460.0L460.4 461.7L461.0 463.8L462.2 465.6L463.8 466.7L465.0 468.3L466.9 469.1L468.1 470.8L469.3 472.3L471.1 473.3L473.5 472.9L475.5 471.6L477.8 471.1L478.5 472.8L478.6 474.7L478.8 476.5L479.6 478.2L480.0 480.0L481.5 481.7L483.5 482.6L485.1 484.1L486.7 485.6L488.1 487.1L489.2 488.8L490.7 490.2L492.2 491.5L493.3 493.3L494.5 495.4L496.0 497.3M496.0 497.3L498.2 497.2L500.2 498.1L502.2 499.0L504.4 498.9L506.6 499.0L508.9 499.2L511.1 498.9L513.3 498.9L515.5 499.0L517.8 498.5L520.0 498.9L521.7 499.7L523.5 500.1L525.4 499.8L527.1 500.9L528.9 501.1L530.3 502.6L531.2 504.6L532.5 506.1L534.3 507.3L535.6 508.9L537.6 509.8L539.5 511.0M496.0 497.3L494.9 499.1L493.7 500.7L492.2 502.2L491.8 504.1L491.0 505.8L489.9 507.3L488.9 508.9L486.7 508.5L484.4 508.4L482.2 507.8L480.6 508.7L479.3 510.0L477.8 511.1L476.3 512.4L474.5 513.5L472.5 514.1L471.1 515.6L469.6 517.2L467.9 518.5L466.2 519.9L464.4 521.1L462.7 519.6L460.8 518.5L458.4 518.2L456.7 516.7L455.6 518.8L455.4 521.2L454.4 523.3L453.4 525.3L451.3 526.4L450.2 528.3L448.9 530.0L447.0 531.1L444.9 531.8L443.0 532.9L441.1 534.0M408.9 498.0L408.1 500.3L406.7 502.2L408.5 503.3L410.4 504.5L412.2 505.6L411.6 507.8L410.3 509.9L410.0 512.2L410.7 514.1L411.3 516.0L411.7 518.0L412.2 520.0L414.3 521.4L416.7 522.2L417.2 520.3L417.2 518.3L417.7 516.4L417.8 514.4L418.8 512.7L419.0 510.6L420.0 508.9L421.7 509.6L422.8 511.3L424.4 512.2L425.1 514.1L426.5 515.6L427.7 517.2L428.7 519.0L430.0 520.5L431.1 522.2L432.9 523.4L434.3 525.2L435.9 526.7L437.8 527.8L438.4 530.1L440.4 531.7L441.1 534.0M441.1 534.0L440.1 536.3L440.0 538.9L441.0 540.6L441.9 542.4L442.6 544.3L443.7 545.9L444.4 547.8L443.7 549.5L443.2 551.3L442.6 553.0L442.0 554.7L440.3 555.9L440.0 557.8L441.8 557.2L443.7 556.8L445.6 556.7L446.3 558.8L448.0 560.2L448.9 562.2L450.8 562.7L452.6 563.3L454.2 564.3L456.1 564.8L457.8 565.6L459.6 566.2L461.0 567.4L462.9 567.8L464.4 568.9L466.4 569.0L468.0 570.4L470.0 570.4L471.7 571.6L473.6 572.1L475.6 572.2L476.8 573.7L478.2 575.1L478.9 577.0L480.6 578.1L481.3 580.0L482.5 581.5M378.3 500.0L377.8 502.2L378.2 504.0L377.5 505.9L378.3 507.8L378.0 509.6L377.4 511.4L377.8 513.3L376.1 514.5L374.6 515.8L373.0 517.2L371.8 519.0L370.0 520.0L369.5 521.8L369.1 523.7L368.1 525.4L367.8 527.3L366.7 528.9L366.9 531.0L367.9 532.9L368.1 535.0L367.9 537.1L368.7 539.0L368.9 541.1L369.2 543.1L369.5 545.1L369.3 547.1L369.2 549.2L370.0 551.1L370.3 553.1L369.3 555.0L368.7 556.9L368.9 558.9L367.2 559.8L365.7 561.1L364.3 562.4L362.9 563.8L361.0 564.5L358.7 564.9L356.5 565.8L354.4 566.7L352.3 567.4L350.1 567.8L347.7 567.3L345.6 568.0L343.8 568.6L342.2 569.7L340.6 570.7L339.6 572.6L337.8 573.3L335.9 574.0L334.7 575.5L332.8 576.3L331.7 577.9L330.0 578.9L328.1 579.3L326.1 579.6L324.1 579.2L322.2 580.0L320.7 581.3L318.7 581.9L317.5 583.7L315.6 584.4M262.2 510.5L261.8 512.7L260.9 514.7L260.0 516.7L260.3 518.7L260.0 520.8L260.8 522.8L261.0 524.8L261.4 526.8L261.1 528.9L261.0 531.2L261.3 533.4L262.4 535.5L262.2 537.8L263.9 538.7L265.2 540.2L267.2 540.7L268.3 542.4L270.0 543.3L271.6 544.3L273.6 544.6L275.2 545.4L276.7 546.7L278.2 548.0L279.7 549.3L281.6 550.1L283.3 551.1L285.4 551.6L287.4 551.5L289.5 550.8L291.5 550.8L293.6 550.6L295.6 551.1L296.4 553.1L297.0 555.1L298.4 556.8L298.9 558.9L301.2 558.8L303.3 559.7L305.6 559.4L307.8 560.0L310.0 559.5L312.2 560.1L314.5 560.5L316.7 560.0L317.1 562.2L317.8 564.4L316.8 566.3L315.4 568.0L314.4 570.0L313.5 572.0L311.9 573.5L311.1 575.6L312.9 576.4L314.5 577.7L316.3 578.6L317.8 580.0L316.6 582.1L315.6 584.4M204.2 446.2L205.9 445.1L207.5 444.0L210.5 443.0L214.0 442.5L215.0 440.5L217.0 439.9L219.0 439.5L220.9 438.9L222.5 437.8L225.0 436.8L228.0 436.2L229.5 437.8L232.8 439.2L233.8 441.8L235.6 442.1L237.5 442.5L238.2 444.8L241.5 446.0L242.0 448.0L240.2 449.3L238.0 449.5L237.0 451.2L238.0 453.5L239.8 455.2L238.8 457.0L236.8 458.0L233.5 457.0L231.5 456.5L229.6 457.4L227.5 457.8L225.0 459.8L223.3 460.9L221.2 461.5L218.5 463.2L216.0 464.2L213.2 464.0L212.5 462.0L211.4 460.4L211.2 458.5L209.8 456.0L207.2 453.8L206.5 451.0L207.5 449.2L205.0 447.0Z"/></defs><text transform="translate(421.6 80.5) scale(1 1.047)" font-size="55" fill="#000">Zastoupení tříd mezi obyvateli krajů</text><text transform="translate(639.6 136.7) scale(1 1.03)" font-size="36.7" fill="#000">sytější barva = vyšší zastoupení</text><g transform="translate(0 0)"><use href="#rKV" fill="#64bda3"/><use href="#rUL" fill="#a2d7c7"/><use href="#rLB" fill="#76c5ad"/><use href="#rHK" fill="#7fc9b3"/><use href="#rPA" fill="#5bb99d"/><use href="#rST" fill="#4db395"/><use href="#rPL" fill="#64bda3"/><use href="#rJC" fill="#82cab4"/><use href="#rVY" fill="#64bda3"/><use href="#rJM" fill="#64bda3"/><use href="#rOL" fill="#8dcebb"/><use href="#rMS" fill="#98d3c2"/><use href="#rZL" fill="#82cab4"/><use href="#rPHA" fill="#1b9e77"/><use href="#borders" fill="none" stroke="#fff" stroke-width="2.0" stroke-linejoin="round" stroke-linecap="round"/></g><text transform="translate(307.5 275.8) scale(1 1.05)" font-size="36.5" fill="#1a1a1a" text-anchor="middle" word-spacing="5">Zajištěná střední třída</text><line x1="170.3" y1="401.4" x2="98.8" y2="694.1" stroke="#000" stroke-width="2.5" stroke-linecap="round" stroke-dasharray="0.01 5"/><circle cx="170.3" cy="401.4" r="4.8" fill="#fff" stroke="#000" stroke-width="1.3"/><text transform="translate(46.699999999999996 717.6) scale(1 1.03)" font-size="25.2" fill="#000">Ústecký kraj 14 %</text><line x1="222.8" y1="450.3" x2="399.0" y2="694.1" stroke="#000" stroke-width="2.5" stroke-linecap="round" stroke-dasharray="0.01 5"/><circle cx="222.8" cy="450.3" r="4.8" fill="#fff" stroke="#000" stroke-width="1.3"/><text transform="translate(353.40000000000003 717.6) scale(1 1.03)" font-size="25.2" fill="#000">Praha 34 %</text><g transform="translate(592.4 0)"><use href="#rKV" fill="#f4d2b8"/><use href="#rUL" fill="#f8e2d1"/><use href="#rLB" fill="#f4d1b6"/><use href="#rHK" fill="#f5d4bb"/><use href="#rPA" fill="#f5d5bd"/><use href="#rST" fill="#f1c4a1"/><use href="#rPL" fill="#f3cdb1"/><use href="#rJC" fill="#efba92"/><use href="#rVY" fill="#fbede3"/><use href="#rJM" fill="#efba92"/><use href="#rOL" fill="#f5d5bd"/><use href="#rMS" fill="#f3cdb1"/><use href="#rZL" fill="#f3cdb1"/><use href="#rPHA" fill="#e59253"/><use href="#borders" fill="none" stroke="#fff" stroke-width="2.0" stroke-linejoin="round" stroke-linecap="round"/></g><text transform="translate(900 275.8) scale(1 1.05)" font-size="36.5" fill="#1a1a1a" text-anchor="middle" word-spacing="5">Nastupující kosmopolitní třída</text><line x1="760.9" y1="401.2" x2="689.1" y2="692.7" stroke="#000" stroke-width="2.5" stroke-linecap="round" stroke-dasharray="0.01 5"/><circle cx="760.9" cy="401.2" r="4.8" fill="#fff" stroke="#000" stroke-width="1.3"/><text transform="translate(637.0999999999999 717.6) scale(1 1.03)" font-size="25.2" fill="#000">Ústecký kraj 6 %</text><line x1="813.5" y1="450.0" x2="990.9" y2="692.7" stroke="#000" stroke-width="2.5" stroke-linecap="round" stroke-dasharray="0.01 5"/><circle cx="813.5" cy="450.0" r="4.8" fill="#fff" stroke="#000" stroke-width="1.3"/><text transform="translate(945.0999999999999 717.6) scale(1 1.03)" font-size="25.2" fill="#000">Praha 23 %</text><g transform="translate(1184.8 0)"><use href="#rKV" fill="#d7d6e9"/><use href="#rUL" fill="#d3d1e7"/><use href="#rLB" fill="#a19ecb"/><use href="#rHK" fill="#bab8d9"/><use href="#rPA" fill="#c5c3df"/><use href="#rST" fill="#bab8d9"/><use href="#rPL" fill="#bab8d9"/><use href="#rJC" fill="#d3d1e7"/><use href="#rVY" fill="#afacd3"/><use href="#rJM" fill="#c5c3df"/><use href="#rOL" fill="#c5c3df"/><use href="#rMS" fill="#c5c3df"/><use href="#rZL" fill="#c5c3df"/><use href="#rPHA" fill="#d3d1e7"/><use href="#borders" fill="none" stroke="#fff" stroke-width="2.0" stroke-linejoin="round" stroke-linecap="round"/></g><text transform="translate(1492.5 275.8) scale(1 1.05)" font-size="36.5" fill="#1a1a1a" text-anchor="middle" word-spacing="5">Tradiční pracující třída</text><line x1="1272.0" y1="440.2" x2="1353.2" y2="693.1" stroke="#000" stroke-width="2.5" stroke-linecap="round" stroke-dasharray="0.01 5"/><circle cx="1272.0" cy="440.2" r="4.8" fill="#fff" stroke="#000" stroke-width="1.3"/><text transform="translate(1245.2 717.6) scale(1 1.03)" font-size="25.2" fill="#000">Karlovarský kraj 10 %</text><line x1="1448.1" y1="362.7" x2="1645.6" y2="694.7" stroke="#000" stroke-width="2.5" stroke-linecap="round" stroke-dasharray="0.01 5"/><circle cx="1448.1" cy="362.7" r="4.8" fill="#fff" stroke="#000" stroke-width="1.3"/><text transform="translate(1530.5 717.6) scale(1 1.03)" font-size="25.2" fill="#000">Liberecký kraj 23 %</text><g transform="translate(0 600)"><use href="#rKV" fill="#f9c5df"/><use href="#rUL" fill="#f8c1dd"/><use href="#rLB" fill="#f7b6d7"/><use href="#rHK" fill="#f49fca"/><use href="#rPA" fill="#f7b8d8"/><use href="#rST" fill="#f5a5ce"/><use href="#rPL" fill="#f8c1dd"/><use href="#rJC" fill="#f5a5ce"/><use href="#rVY" fill="#f181ba"/><use href="#rJM" fill="#f5a5ce"/><use href="#rOL" fill="#f8bfdc"/><use href="#rMS" fill="#f9c5df"/><use href="#rZL" fill="#f6b0d4"/><use href="#rPHA" fill="#fbd8ea"/><use href="#borders" fill="none" stroke="#fff" stroke-width="2.0" stroke-linejoin="round" stroke-linecap="round"/></g><text transform="translate(307.5 877.3) scale(1 1.05)" font-size="36.5" fill="#1a1a1a" text-anchor="middle" word-spacing="5">Třída místních vazeb</text><line x1="222.3" y1="1049.2" x2="127.1" y2="1312.7" stroke="#000" stroke-width="2.5" stroke-linecap="round" stroke-dasharray="0.01 5"/><circle cx="222.3" cy="1049.2" r="4.8" fill="#fff" stroke="#000" stroke-width="1.3"/><text transform="translate(69.8 1340.0) scale(1 1.03)" font-size="25.2" fill="#000">Praha 6 %</text><line x1="324.0" y1="1118.2" x2="426.7" y2="1315.2" stroke="#000" stroke-width="2.5" stroke-linecap="round" stroke-dasharray="0.01 5"/><circle cx="324.0" cy="1118.2" r="4.8" fill="#fff" stroke="#000" stroke-width="1.3"/><text transform="translate(371.6 1340.0) scale(1 1.03)" font-size="25.2" fill="#000">Vysočina 20 %</text><g transform="translate(592.4 600)"><use href="#rKV" fill="#88ba50"/><use href="#rUL" fill="#66a61e"/><use href="#rLB" fill="#accf86"/><use href="#rHK" fill="#a6cb7c"/><use href="#rPA" fill="#b1d28c"/><use href="#rST" fill="#b7d595"/><use href="#rPL" fill="#a6cb7c"/><use href="#rJC" fill="#8ebd58"/><use href="#rVY" fill="#aed088"/><use href="#rJM" fill="#a6cb7c"/><use href="#rOL" fill="#83b749"/><use href="#rMS" fill="#8ebd58"/><use href="#rZL" fill="#8ebd58"/><use href="#rPHA" fill="#b7d595"/><use href="#borders" fill="none" stroke="#fff" stroke-width="2.0" stroke-linejoin="round" stroke-linecap="round"/></g><text transform="translate(900 877.3) scale(1 1.05)" font-size="36.5" fill="#1a1a1a" text-anchor="middle" word-spacing="5">Ohrožená třída</text><line x1="798.2" y1="1083.4" x2="741.6" y2="1312.1" stroke="#000" stroke-width="2.5" stroke-linecap="round" stroke-dasharray="0.01 5"/><circle cx="798.2" cy="1083.4" r="4.8" fill="#fff" stroke="#000" stroke-width="1.3"/><text transform="translate(617.0999999999999 1340.0) scale(1 1.03)" font-size="25.2" fill="#000">Středočeský kraj 16 %</text><line x1="769.3" y1="1001.2" x2="1042.5" y2="1315.2" stroke="#000" stroke-width="2.5" stroke-linecap="round" stroke-dasharray="0.01 5"/><circle cx="769.3" cy="1001.2" r="4.8" fill="#fff" stroke="#000" stroke-width="1.3"/><text transform="translate(967.1999999999999 1340.0) scale(1 1.03)" font-size="25.2" fill="#000">Ústecký kraj 34 %</text><g transform="translate(1184.8 600)"><use href="#rKV" fill="#f0cc65"/><use href="#rUL" fill="#ecc144"/><use href="#rLB" fill="#f4d88b"/><use href="#rHK" fill="#f0ce6c"/><use href="#rPA" fill="#eec653"/><use href="#rST" fill="#f4dc95"/><use href="#rPL" fill="#f1d174"/><use href="#rJC" fill="#f1d174"/><use href="#rVY" fill="#f4d88b"/><use href="#rJM" fill="#f5dd97"/><use href="#rOL" fill="#f1d174"/><use href="#rMS" fill="#edc34b"/><use href="#rZL" fill="#f0cc65"/><use href="#rPHA" fill="#faedca"/><use href="#borders" fill="none" stroke="#fff" stroke-width="2.0" stroke-linejoin="round" stroke-linecap="round"/></g><text transform="translate(1492.5 877.3) scale(1 1.05)" font-size="36.5" fill="#1a1a1a" text-anchor="middle" word-spacing="5">Strádající třída</text><line x1="1403.6" y1="1055.1" x2="1351.3" y2="1311.1" stroke="#000" stroke-width="2.5" stroke-linecap="round" stroke-dasharray="0.01 5"/><circle cx="1403.6" cy="1055.1" r="4.8" fill="#fff" stroke="#000" stroke-width="1.3"/><text transform="translate(1290.8999999999999 1340.0) scale(1 1.03)" font-size="25.2" fill="#000">Praha 7 %</text><line x1="1373.4" y1="988.5" x2="1592.7" y2="1312.7" stroke="#000" stroke-width="2.5" stroke-linecap="round" stroke-dasharray="0.01 5"/><circle cx="1373.4" cy="988.5" r="4.8" fill="#fff" stroke="#000" stroke-width="1.3"/><text transform="translate(1514.8999999999999 1340.0) scale(1 1.03)" font-size="25.2" fill="#000">Ústecký kraj 25 %</text></svg></body></html>
